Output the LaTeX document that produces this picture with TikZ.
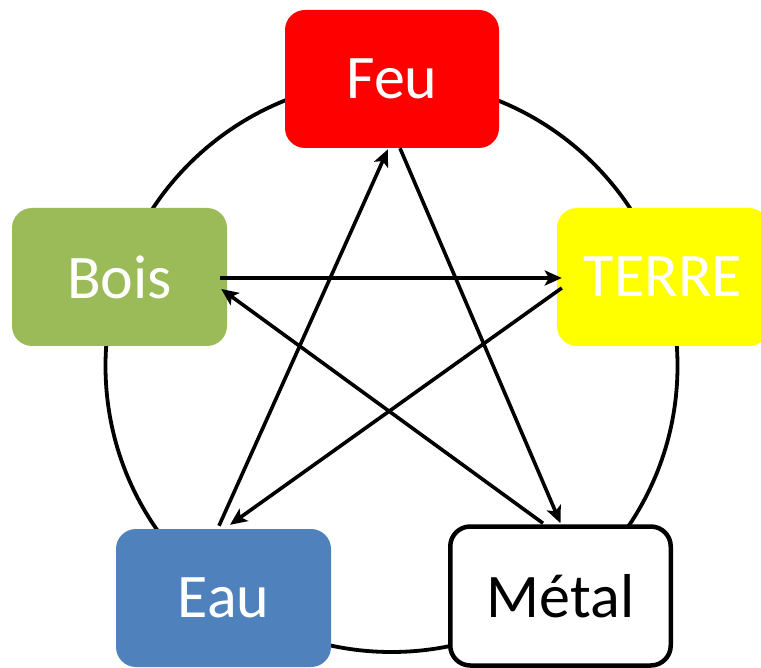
\documentclass[tikz,border=0pt]{standalone}
\usepackage{fontspec}
\setmainfont{Carlito}
\usetikzlibrary{arrows.meta,calc}
\definecolor{feured}{HTML}{FF0000}
\definecolor{boisgreen}{HTML}{9BBB59}
\definecolor{terreyellow}{HTML}{FFFF00}
\definecolor{eaublue}{HTML}{4F81BD}
\begin{document}
\begin{tikzpicture}[x=1pt,y=-1pt,
  elem/.style={rectangle, rounded corners=20pt, minimum width=214pt, minimum height=138pt,
    inner sep=0pt, font=\fontsize{62}{70}\selectfont, text=white},
  link/.style={line width=3.6pt, -{Stealth[length=17pt,width=15pt,inset=4pt]}},
  ring/.style={line width=3.8pt}]
\clip (0,0) rectangle (761,668);
\draw[ring] (391.5,366) circle[radius=286];
\node[elem, fill=feured] (feu) at (392,79) {Feu};
\node[elem, fill=boisgreen, minimum width=215pt] (bois) at (119.5,277) {Bois};
\node[elem, fill=terreyellow, minimum width=212pt] (terre) at (663,277) {TERRE};
\node[elem, fill=eaublue, minimum width=215pt] (eau) at (223.5,598) {Eau};
\node[elem, draw=black, fill=white, line width=4.5pt, text=black, minimum width=220.5pt, minimum height=139pt] (metal) at (560.5,596) {Métal};
\draw[link] ($(eau.north)+(-4.5,-3)$) -- ($(feu.south)+(-4,1)$);
\draw[link] ($(feu.south)+(8,0)$) -- ($(metal.north)+(0,-1)$);
\draw[link] ($(bois.east)+(-7,1)$) -- ($(terre.west)+(5,1)$);
\draw[link] ($(terre.west)+(5,11)$) -- ($(eau.north)+(6.5,-4)$);
\draw[link] ($(metal.north)+(-17.5,-1)$) -- ($(bois.east)+(-6,12)$);
\end{tikzpicture}
\end{document}
